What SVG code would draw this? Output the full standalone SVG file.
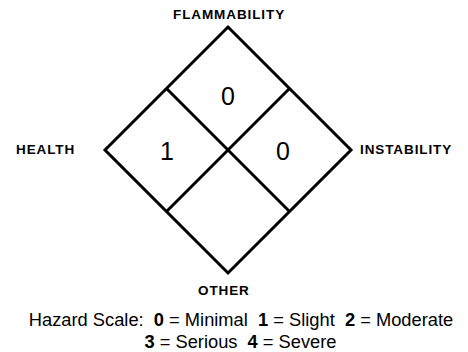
<svg xmlns="http://www.w3.org/2000/svg" width="468" height="352" viewBox="0 0 468 352">
<style>
.ln{fill:none;stroke:#000;stroke-width:3;stroke-linejoin:miter}
.lab{font-family:"Liberation Sans",Arial,sans-serif;font-weight:bold;font-size:13.5px;letter-spacing:0.9px;fill:#000}
.num{font-family:"Liberation Sans",Arial,sans-serif;font-size:25px;fill:#000;text-anchor:middle}
.leg{font-family:"Liberation Sans",Arial,sans-serif;font-size:18.3px;fill:#000;text-anchor:middle}
.b{font-weight:bold}
</style>
<rect width="468" height="352" fill="#fff"/>
<g id="connectors">
<polygon class="ln" points="228,27 351,150 228,273 105,150"/>
<line class="ln" x1="166.5" y1="88.5" x2="289.5" y2="211.5"/>
<line class="ln" x1="289.5" y1="88.5" x2="166.5" y2="211.5"/>
</g>
<g id="flammability"><text class="lab" x="173" y="19">FLAMMABILITY</text><text class="num" x="228" y="105">0</text></g>
<g id="health"><text class="lab" x="16" y="154">HEALTH</text><text class="num" x="167" y="160">1</text></g>
<g id="instability"><text class="lab" x="360" y="154">INSTABILITY</text><text class="num" x="283" y="160">0</text></g>
<g id="other"><text class="lab" x="198" y="295">OTHER</text></g>
<g id="legend">
<text class="leg" x="241" y="326" xml:space="preserve">Hazard Scale:  <tspan class="b">0</tspan> = Minimal  <tspan class="b">1</tspan> = Slight  <tspan class="b">2</tspan> = Moderate</text>
<text class="leg" x="240.5" y="348" xml:space="preserve"><tspan class="b">3</tspan> = Serious  <tspan class="b">4</tspan> = Severe</text>
</g>
</svg>
